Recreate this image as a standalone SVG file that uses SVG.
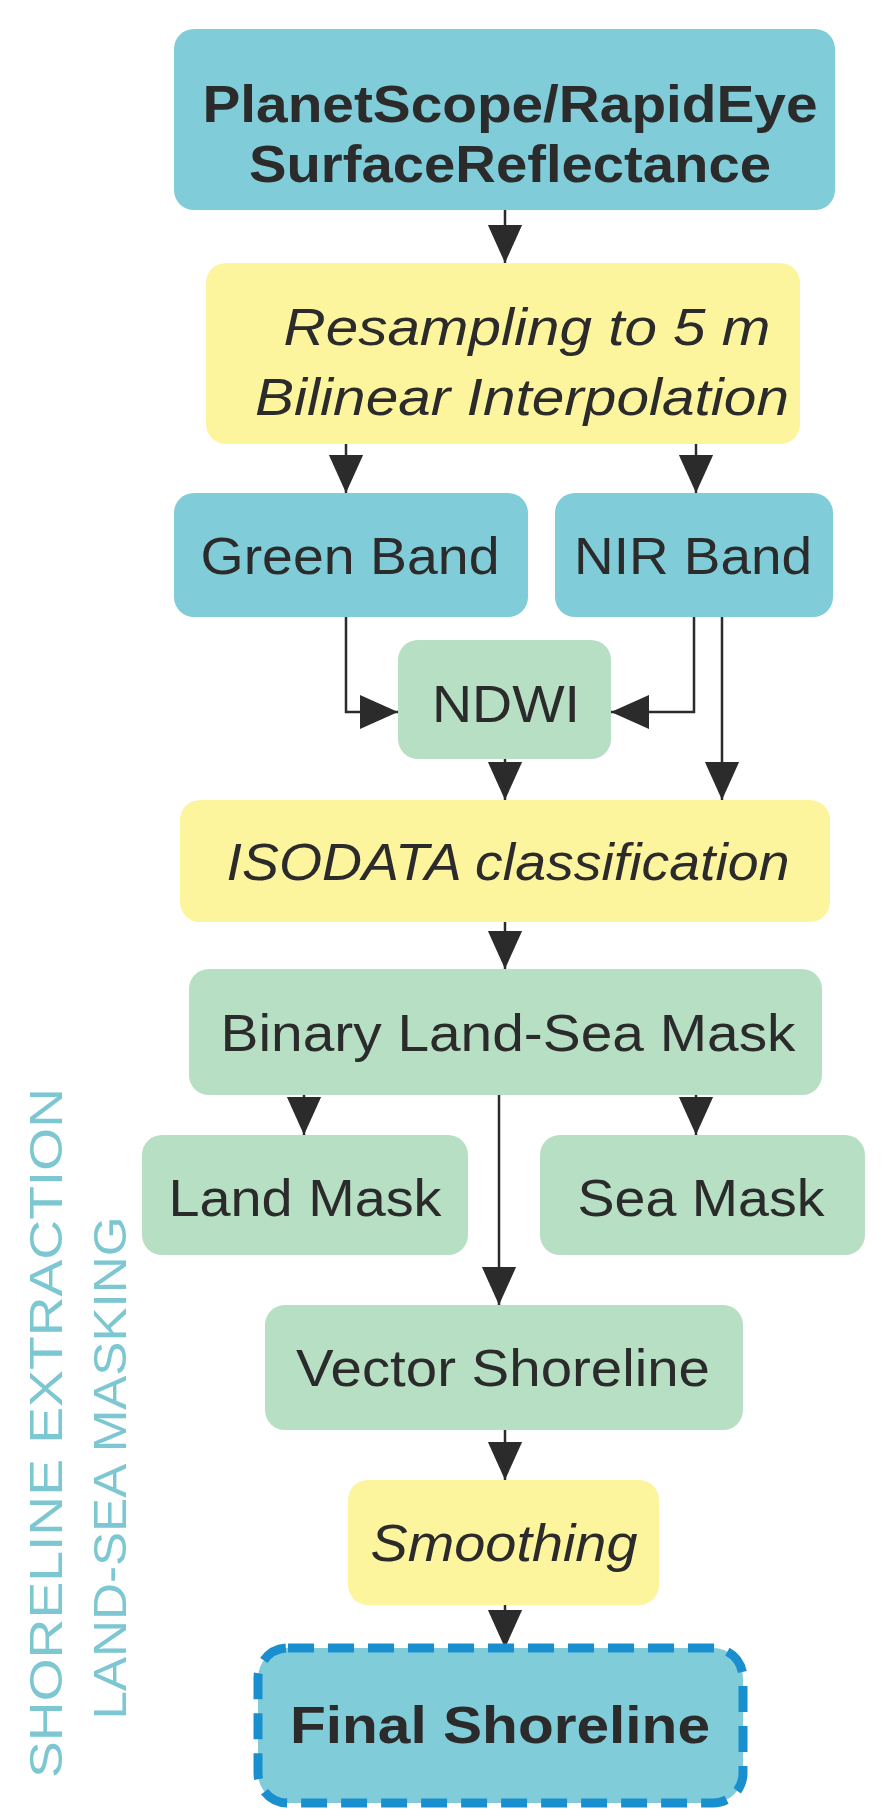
<svg xmlns="http://www.w3.org/2000/svg" width="884" height="1816" viewBox="0 0 884 1816">
<defs>
<marker id="ah" viewBox="0 0 10 10" refX="10" refY="5" markerWidth="38" markerHeight="38" orient="auto" markerUnits="userSpaceOnUse"><path d="M0,0.5 L10,5 L0,9.5 z" fill="#2b2b2b"/></marker>
<style>
.b{fill:#80ccd8}.y{fill:#fdf49e}.g{fill:#b6dfc4}
text{font-family:"Liberation Sans",Arial,sans-serif;font-size:52px;fill:#2b2b2b;text-anchor:middle}
.bd{font-weight:bold}.it{font-style:italic}
.side{fill:#7cc7d2;font-size:46px}
.c{stroke:#2b2b2b;stroke-width:2.5;fill:none}
</style>
</defs>
<g id="connectors">
<path class="c" d="M505 210V263" marker-end="url(#ah)"/>
<path class="c" d="M346 444V493" marker-end="url(#ah)"/>
<path class="c" d="M696 444V493" marker-end="url(#ah)"/>
<path class="c" d="M346 617V712H398" marker-end="url(#ah)"/>
<path class="c" d="M694 617V712H611" marker-end="url(#ah)"/>
<path class="c" d="M722 617V800" marker-end="url(#ah)"/>
<path class="c" d="M505 759V800" marker-end="url(#ah)"/>
<path class="c" d="M505 922V969" marker-end="url(#ah)"/>
<path class="c" d="M304 1095V1135" marker-end="url(#ah)"/>
<path class="c" d="M696 1095V1135" marker-end="url(#ah)"/>
<path class="c" d="M499 1095V1305" marker-end="url(#ah)"/>
<path class="c" d="M505 1430V1480" marker-end="url(#ah)"/>
<path class="c" d="M505 1605V1648" marker-end="url(#ah)"/>
</g>
<g id="n1"><rect class="b" x="174" y="29" width="661" height="181" rx="20"/><text class="bd" x="510" y="122" textLength="615" lengthAdjust="spacingAndGlyphs">PlanetScope/RapidEye</text><text class="bd" x="510" y="182" textLength="522" lengthAdjust="spacingAndGlyphs">SurfaceReflectance</text></g>
<g id="n2"><rect class="y" x="206" y="263" width="594" height="181" rx="20"/><text class="it" x="527" y="345" textLength="487" lengthAdjust="spacingAndGlyphs">Resampling to 5 m</text><text class="it" x="522" y="415" textLength="534" lengthAdjust="spacingAndGlyphs">Bilinear Interpolation</text></g>
<g id="n3"><rect class="b" x="174" y="493" width="354" height="124" rx="20"/><text x="350" y="574" textLength="299" lengthAdjust="spacingAndGlyphs">Green Band</text></g>
<g id="n4"><rect class="b" x="555" y="493" width="278" height="124" rx="20"/><text x="693" y="574" textLength="238" lengthAdjust="spacingAndGlyphs">NIR Band</text></g>
<g id="n5"><rect class="g" x="398" y="640" width="213" height="119" rx="20"/><text x="506" y="722" textLength="148" lengthAdjust="spacingAndGlyphs">NDWI</text></g>
<g id="n6"><rect class="y" x="180" y="800" width="650" height="122" rx="20"/><text class="it" x="508" y="880" textLength="563" lengthAdjust="spacingAndGlyphs">ISODATA classification</text></g>
<g id="n7"><rect class="g" x="189" y="969" width="633" height="126" rx="20"/><text x="508" y="1051" textLength="575" lengthAdjust="spacingAndGlyphs">Binary Land-Sea Mask</text></g>
<g id="n8"><rect class="g" x="142" y="1135" width="326" height="120" rx="20"/><text x="305" y="1216" textLength="273" lengthAdjust="spacingAndGlyphs">Land Mask</text></g>
<g id="n9"><rect class="g" x="540" y="1135" width="325" height="120" rx="20"/><text x="701" y="1216" textLength="247" lengthAdjust="spacingAndGlyphs">Sea Mask</text></g>
<g id="n10"><rect class="g" x="265" y="1305" width="478" height="125" rx="20"/><text x="503" y="1386" textLength="414" lengthAdjust="spacingAndGlyphs">Vector Shoreline</text></g>
<g id="n11"><rect class="y" x="348" y="1480" width="311" height="125" rx="20"/><text class="it" x="504" y="1561" textLength="267" lengthAdjust="spacingAndGlyphs">Smoothing</text></g>
<g id="n12"><rect class="b" x="258" y="1648" width="485" height="155" rx="30" stroke="#1a8fd0" stroke-width="9" stroke-dasharray="26 14"/><text class="bd" x="500" y="1743" textLength="420" lengthAdjust="spacingAndGlyphs">Final Shoreline</text></g>
<g id="side">
<text class="side" transform="translate(62 1433) rotate(-90)" textLength="690" lengthAdjust="spacingAndGlyphs">SHORELINE EXTRACTION</text>
<text class="side" transform="translate(126 1468) rotate(-90)" textLength="503" lengthAdjust="spacingAndGlyphs">LAND-SEA MASKING</text>
</g>
</svg>
